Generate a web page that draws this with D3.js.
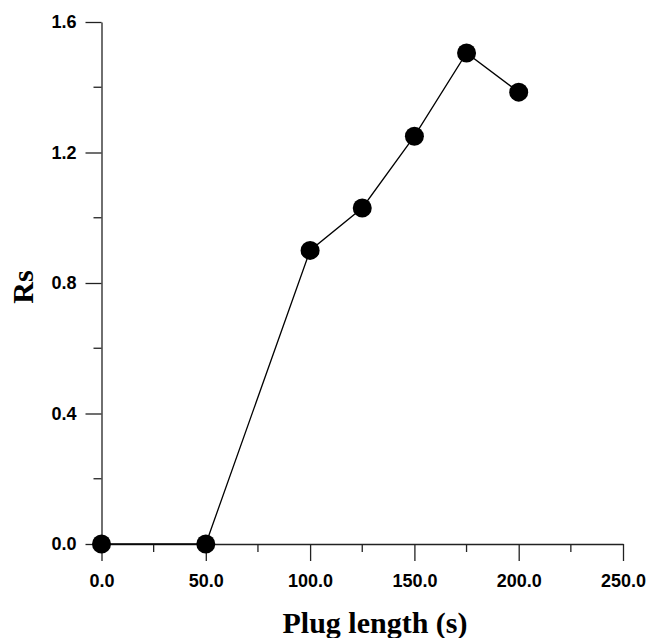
<!DOCTYPE html>
<html>
<head>
<meta charset="utf-8">
<script src="https://cdn.jsdelivr.net/npm/d3@7"></script>
<style>
  body { margin: 0; background: #fff; }
</style>
</head>
<body>
<div id="chart"></div>
<script>
// Dados
var plugLength = [0, 50, 100, 125, 150, 175, 200];
var rsValues = [0, 0, 0.90, 1.03, 1.25, 1.505, 1.385];
var xMajorTicks = [0, 50, 100, 150, 200, 250];
var xMinorTicks = [25, 75, 125, 175, 225];
var yMajorTicks = [0, 0.4, 0.8, 1.2, 1.6];
var yMinorTicks = [0.2, 0.6, 1.0, 1.4];

var width = 647, height = 638;
var tickFont = "'Liberation Sans', Arial, sans-serif";
var titleFont = "'Liberation Serif', 'Times New Roman', serif";

var svg = d3.select("#chart")
            .append("svg")
            .attr("width", width)
            .attr("height", height);

// Escalas
var xScale = d3.scaleLinear().domain([0, 250]).range([101.5, 623]);
var yScale = d3.scaleLinear().domain([0, 1.6]).range([544, 22]);

var axisColor = "#222";

// Eixo x
var xAxis = svg.append("g").attr("transform", "translate(0," + yScale(0) + ")");
xAxis.call(d3.axisBottom(xScale).tickValues(xMajorTicks).tickSize(17).tickSizeOuter(0)
             .tickFormat(d3.format(".1f")));
xAxis.select(".domain").attr("stroke", axisColor).attr("stroke-width", 1.3);
xAxis.selectAll(".tick line").attr("stroke", axisColor).attr("stroke-width", 1.3);
xAxis.selectAll(".tick text")
     .attr("y", 30).attr("dy", "0.71em")
     .style("font-family", tickFont).style("font-weight", "bold")
     .style("font-size", "18px").style("fill", "#000");
xAxis.selectAll(".minor").data(xMinorTicks).enter()
     .append("line")
     .attr("x1", function(d) { return xScale(d); })
     .attr("x2", function(d) { return xScale(d); })
     .attr("y1", 0).attr("y2", 8)
     .attr("stroke", axisColor).attr("stroke-width", 1.3);

// Eixo y
var yAxis = svg.append("g").attr("transform", "translate(" + xScale(0) + ",0)");
yAxis.call(d3.axisLeft(yScale).tickValues(yMajorTicks).tickSize(16).tickSizeOuter(0)
             .tickFormat(d3.format(".1f")));
yAxis.select(".domain").attr("stroke", axisColor).attr("stroke-width", 1.3);
yAxis.selectAll(".tick line").attr("stroke", axisColor).attr("stroke-width", 1.3);
yAxis.selectAll(".tick text")
     .attr("x", -25)
     .style("font-family", tickFont).style("font-weight", "bold")
     .style("font-size", "18px").style("fill", "#000");
yAxis.selectAll(".minor").data(yMinorTicks).enter()
     .append("line")
     .attr("y1", function(d) { return yScale(d); })
     .attr("y2", function(d) { return yScale(d); })
     .attr("x1", 0).attr("x2", -8)
     .attr("stroke", axisColor).attr("stroke-width", 1.3);

// Linha e pontos
var line = d3.line()
             .x(function(d, i) { return xScale(plugLength[i]); })
             .y(function(d) { return yScale(d); });

svg.append("path")
   .datum(rsValues)
   .attr("d", line)
   .attr("fill", "none")
   .attr("stroke", "#000")
   .attr("stroke-width", 1.3);

svg.selectAll("circle")
   .data(rsValues)
   .enter()
   .append("circle")
   .attr("cx", function(d, i) { return xScale(plugLength[i]); })
   .attr("cy", function(d) { return yScale(d); })
   .attr("r", 9.5)
   .attr("fill", "#000");

// Rótulos
svg.append("text")
   .attr("x", 375)
   .attr("y", 633)
   .attr("text-anchor", "middle")
   .style("font-family", titleFont).style("font-weight", "bold").style("font-size", "30px")
   .text("Plug length (s)");

svg.append("text")
   .attr("transform", "translate(33,287) rotate(-90)")
   .attr("text-anchor", "middle")
   .style("font-family", titleFont).style("font-weight", "bold").style("font-size", "30px")
   .text("Rs");
</script>
</body>
</html>
